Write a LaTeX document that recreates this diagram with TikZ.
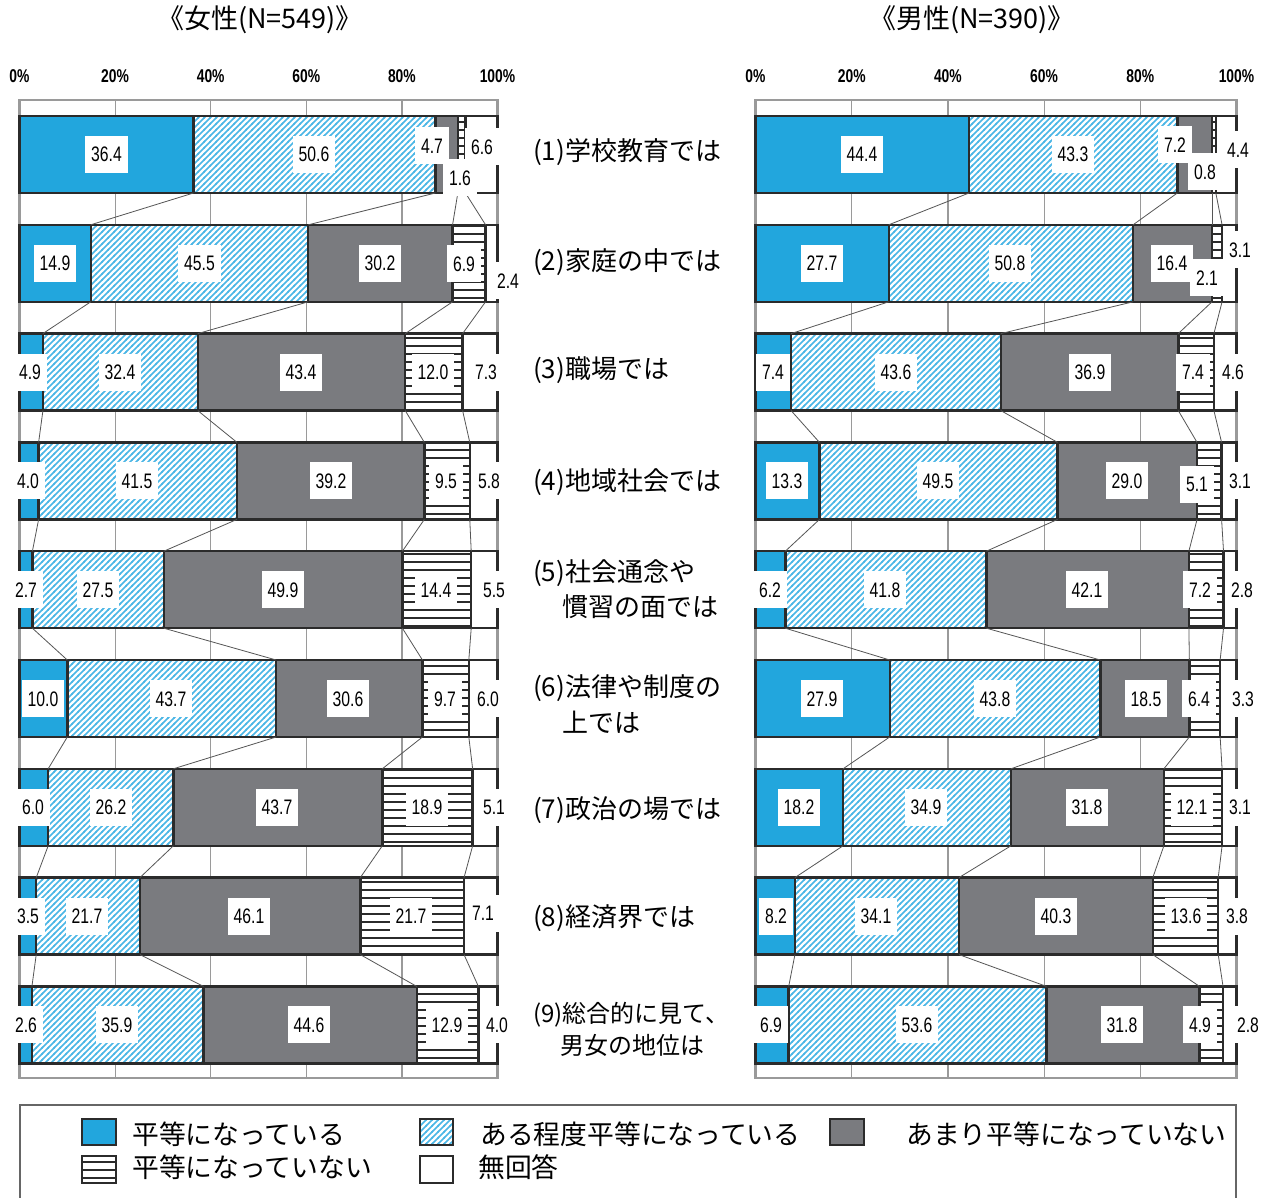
\documentclass[tikz,border=0pt]{standalone}
\usepackage{fontspec}
\usetikzlibrary{patterns}
\newfontfamily\jp{Noto Sans CJK JP}
\newfontfamily\numf[FakeStretch=0.75]{Liberation Sans}
\definecolor{cblue}{HTML}{22A6DD}
\definecolor{hblue}{HTML}{4AB6E6}
\definecolor{cgray}{HTML}{7A7B7F}
\definecolor{bline}{HTML}{2B2B2B}
\definecolor{gridc}{HTML}{9A9A9A}
\definecolor{connc}{HTML}{555555}
\definecolor{legc}{HTML}{666666}

\pgfdeclarepatternformonly{diaghatch}{\pgfqpoint{-1pt}{-1pt}}{\pgfqpoint{7pt}{7pt}}{\pgfqpoint{6pt}{6pt}}{%
 \pgfsetlinewidth{1.6pt}%
 \pgfpathmoveto{\pgfqpoint{-1pt}{-1pt}}\pgfpathlineto{\pgfqpoint{7pt}{7pt}}\pgfusepath{stroke}}
\pgfdeclarepatternformonly{hstripes}{\pgfqpoint{-1pt}{-1pt}}{\pgfqpoint{9pt}{9pt}}{\pgfqpoint{8pt}{8pt}}{%
 \pgfsetlinewidth{1.6pt}%
 \pgfpathmoveto{\pgfqpoint{-1pt}{4pt}}\pgfpathlineto{\pgfqpoint{9pt}{4pt}}\pgfusepath{stroke}}

% #1 name, #2 x0, #3 width, #4 ytop, #5..#8 values
\newcommand\mybar[8]{%
 \pgfmathsetmacro\xa{#2+#3/100*(#5)}%
 \pgfmathsetmacro\xb{#2+#3/100*(#5+#6)}%
 \pgfmathsetmacro\xc{#2+#3/100*(#5+#6+#7)}%
 \pgfmathsetmacro\xd{#2+#3/100*(#5+#6+#7+#8)}%
 \pgfmathsetmacro\xe{#2+#3}%
 \pgfmathsetmacro\yb{#4+77}%
 \fill[cblue] (#2,#4) rectangle (\xa,\yb);
 \fill[white] (\xa,#4) rectangle (\xb,\yb);
 \fill[pattern=diaghatch,pattern color=hblue] (\xa,#4) rectangle (\xb,\yb);
 \fill[cgray] (\xb,#4) rectangle (\xc,\yb);
 \fill[white] (\xc,#4) rectangle (\xd,\yb);
 \fill[pattern=hstripes,pattern color=bline] (\xc,#4) rectangle (\xd,\yb);
 \fill[white] (\xd,#4) rectangle (\xe,\yb);
 \draw[barline] (#2,#4) rectangle (\xe,\yb);
 \draw[barline] (\xa,#4) -- (\xa,\yb) (\xb,#4) -- (\xb,\yb) (\xc,#4) -- (\xc,\yb) (\xd,#4) -- (\xd,\yb);
 \coordinate (#1-t1) at (\xa,#4); \coordinate (#1-b1) at (\xa,\yb);
 \coordinate (#1-t2) at (\xb,#4); \coordinate (#1-b2) at (\xb,\yb);
 \coordinate (#1-t3) at (\xc,#4); \coordinate (#1-b3) at (\xc,\yb);
 \coordinate (#1-t4) at (\xd,#4); \coordinate (#1-b4) at (\xd,\yb);
}
\newcommand\vl[4]{\node[vlab] (#1) at (#2,#3) {#4};}

\begin{document}
\begin{tikzpicture}[x=1pt,y=-1pt,
  barline/.style={draw=bline,line width=2.4pt},
  conn/.style={draw=connc,line width=0.8pt},
  gridline/.style={draw=gridc,line width=1.2pt},
  frameline/.style={draw=gridc,line width=2.2pt},
  vlab/.style={fill=white,font=\numf\fontsize{21}{21}\selectfont,text height=15pt,text depth=0pt,inner xsep=6pt,inner ysep=11pt},
  axlab/.style={font=\numf\bfseries\fontsize{18.5}{18.5}\selectfont,inner sep=0pt},
  cat/.style={anchor=west,font=\jp\fontsize{26}{30}\selectfont,inner sep=0pt},
  cats/.style={anchor=west,font=\jp\fontsize{24}{28}\selectfont,inner sep=0pt},
  ttl/.style={font=\jp\fontsize{27}{27}\selectfont,inner sep=0pt},
  legbox/.style={draw=bline,line width=1.2pt},
  legtxt/.style={anchor=west,font=\jp\fontsize{26.8}{26.8}\selectfont,inner sep=0pt}]
\clip (0,0) rectangle (1269,1198);
\fill[white] (0,0) rectangle (1269,1198);

% titles
\node[ttl] (tF) at (260,20) {《女性(N=549)》};
\node[ttl] (tM) at (972,20) {《男性(N=390)》};

% frames, grid and axis labels
\foreach \xo/\w/\s in {19.5/478/L,755.5/481/R}{
  \foreach \p in {20,40,60,80}{
    \draw[gridline] ({\xo+\w/100*\p},100) -- ({\xo+\w/100*\p},1078);
  }
  \draw[frameline] (\xo,100) rectangle ({\xo+\w},1078);
  \foreach \p in {0,20,40,60,80,100}{
    \node[axlab] (ax\s\p) at ({\xo+\w/100*\p},76) {\p\%};
  }
}

% bars left (women)
\mybar{L1}{19.5}{478}{116}{36.4}{50.6}{4.7}{1.6}
\mybar{L2}{19.5}{478}{224.8}{14.9}{45.5}{30.2}{6.9}
\mybar{L3}{19.5}{478}{333.6}{4.9}{32.4}{43.4}{12.0}
\mybar{L4}{19.5}{478}{442.4}{4.0}{41.5}{39.2}{9.5}
\mybar{L5}{19.5}{478}{551.2}{2.7}{27.5}{49.9}{14.4}
\mybar{L6}{19.5}{478}{660}{10.0}{43.7}{30.6}{9.7}
\mybar{L7}{19.5}{478}{768.8}{6.0}{26.2}{43.7}{18.9}
\mybar{L8}{19.5}{478}{877.6}{3.5}{21.7}{46.1}{21.7}
\mybar{L9}{19.5}{478}{986.4}{2.6}{35.9}{44.6}{12.9}
% bars right (men)
\mybar{R1}{755.5}{481}{116}{44.4}{43.3}{7.2}{0.8}
\mybar{R2}{755.5}{481}{224.8}{27.7}{50.8}{16.4}{2.1}
\mybar{R3}{755.5}{481}{333.6}{7.4}{43.6}{36.9}{7.4}
\mybar{R4}{755.5}{481}{442.4}{13.3}{49.5}{29.0}{5.1}
\mybar{R5}{755.5}{481}{551.2}{6.2}{41.8}{42.1}{7.2}
\mybar{R6}{755.5}{481}{660}{27.9}{43.8}{18.5}{6.4}
\mybar{R7}{755.5}{481}{768.8}{18.2}{34.9}{31.8}{12.1}
\mybar{R8}{755.5}{481}{877.6}{8.2}{34.1}{40.3}{13.6}
\mybar{R9}{755.5}{481}{986.4}{6.9}{53.6}{31.8}{4.9}

% connectors
\foreach \s in {L,R}{
  \foreach \r [evaluate=\r as \n using int(\r+1)] in {1,...,8}{
    \foreach \k in {1,...,4}{
      \draw[conn] (\s\r-b\k) -- (\s\n-t\k);
    }
  }
}

% value labels, left
\vl{l11}{106.5}{154.5}{36.4}\vl{l12}{314}{154.5}{50.6}\vl{l13}{432}{146}{4.7}\vl{l14}{460}{178}{1.6}\vl{l15}{482}{147}{6.6}
\vl{l21}{55}{263.3}{14.9}\vl{l22}{199.5}{263.3}{45.5}\vl{l23}{380}{263.3}{30.2}\vl{l24}{464}{264}{6.9}\vl{l25}{508}{281}{2.4}
\vl{l31}{30}{372.1}{4.9}\vl{l32}{120}{372.1}{32.4}\vl{l33}{301}{372.1}{43.4}\vl{l34}{433}{372.1}{12.0}\vl{l35}{486}{372.1}{7.3}
\vl{l41}{28}{480.9}{4.0}\vl{l42}{137}{480.9}{41.5}\vl{l43}{331}{480.9}{39.2}\vl{l44}{446}{480.9}{9.5}\vl{l45}{489}{480.9}{5.8}
\vl{l51}{26}{589.7}{2.7}\vl{l52}{98}{589.7}{27.5}\vl{l53}{283}{589.7}{49.9}\vl{l54}{436}{589.7}{14.4}\vl{l55}{494}{589.7}{5.5}
\vl{l61}{43}{698.5}{10.0}\vl{l62}{171}{698.5}{43.7}\vl{l63}{348}{698.5}{30.6}\vl{l64}{445}{698.5}{9.7}\vl{l65}{488}{698.5}{6.0}
\vl{l71}{33}{807.3}{6.0}\vl{l72}{111}{807.3}{26.2}\vl{l73}{277}{807.3}{43.7}\vl{l74}{427}{807.3}{18.9}\vl{l75}{494}{807.3}{5.1}
\vl{l81}{28}{916.1}{3.5}\vl{l82}{87}{916.1}{21.7}\vl{l83}{249}{916.1}{46.1}\vl{l84}{411}{916.1}{21.7}\vl{l85}{483}{913}{7.1}
\vl{l91}{26}{1024.9}{2.6}\vl{l92}{117}{1024.9}{35.9}\vl{l93}{309}{1024.9}{44.6}\vl{l94}{447}{1024.9}{12.9}\vl{l95}{497}{1024.9}{4.0}
% value labels, right
\vl{r11}{862}{154.5}{44.4}\vl{r12}{1073}{154.5}{43.3}\vl{r13}{1175}{145}{7.2}\vl{r14}{1205}{172}{0.8}\vl{r15}{1238}{150}{4.4}
\vl{r21}{822}{263.3}{27.7}\vl{r22}{1010}{263.3}{50.8}\vl{r23}{1172}{263.3}{16.4}\vl{r24}{1207}{278}{2.1}\vl{r25}{1240}{250}{3.1}
\vl{r31}{773}{372.1}{7.4}\vl{r32}{896}{372.1}{43.6}\vl{r33}{1090}{372.1}{36.9}\vl{r34}{1193}{372.1}{7.4}\vl{r35}{1233}{372.1}{4.6}
\vl{r41}{787}{480.9}{13.3}\vl{r42}{938}{480.9}{49.5}\vl{r43}{1127}{480.9}{29.0}\vl{r44}{1197}{484}{5.1}\vl{r45}{1240}{480.9}{3.1}
\vl{r51}{770}{589.7}{6.2}\vl{r52}{885}{589.7}{41.8}\vl{r53}{1087}{589.7}{42.1}\vl{r54}{1200}{589.7}{7.2}\vl{r55}{1242}{589.7}{2.8}
\vl{r61}{822}{698.5}{27.9}\vl{r62}{995}{698.5}{43.8}\vl{r63}{1146}{698.5}{18.5}\vl{r64}{1199}{698.5}{6.4}\vl{r65}{1243}{698.5}{3.3}
\vl{r71}{799}{807.3}{18.2}\vl{r72}{926}{807.3}{34.9}\vl{r73}{1087}{807.3}{31.8}\vl{r74}{1192}{807.3}{12.1}\vl{r75}{1240}{807.3}{3.1}
\vl{r81}{776}{916.1}{8.2}\vl{r82}{876}{916.1}{34.1}\vl{r83}{1056}{916.1}{40.3}\vl{r84}{1186}{916.1}{13.6}\vl{r85}{1237}{916.1}{3.8}
\vl{r91}{771}{1024.9}{6.9}\vl{r92}{917}{1024.9}{53.6}\vl{r93}{1122}{1024.9}{31.8}\vl{r94}{1200}{1024.9}{4.9}\vl{r95}{1248}{1024.9}{2.8}

% category labels
\node[cat] (c1) at (533,152) {(1)学校教育では};
\node[cat] (c2) at (533,262) {(2)家庭の中では};
\node[cat] (c3) at (533,370) {(3)職場では};
\node[cat] (c4) at (533,482) {(4)地域社会では};
\node[cat] (c5a) at (533,573) {(5)社会通念や};
\node[cat] (c5b) at (562,607) {慣習の面では};
\node[cat] (c6a) at (533,688) {(6)法律や制度の};
\node[cat] (c6b) at (562,722) {上では};
\node[cat] (c7) at (533,810) {(7)政治の場では};
\node[cat] (c8) at (533,918) {(8)経済界では};
\node[cats] (c9a) at (533,1015) {(9)総合的に見て、};
\node[cats] (c9b) at (560,1045) {男女の地位は};

% legend
\draw[draw=legc,line width=2pt] (20,1105) rectangle (1236,1215);
\draw[legbox,fill=cblue] (82,1119) rectangle (116,1145);
\fill[white] (420,1119) rectangle (453,1145);
\fill[pattern=diaghatch,pattern color=hblue] (420,1119) rectangle (453,1145);
\draw[legbox] (420,1119) rectangle (453,1145);
\draw[legbox,fill=cgray] (830,1119) rectangle (864,1145);
\fill[white] (82,1156) rectangle (116,1183);
\fill[pattern=hstripes,pattern color=bline] (82,1156) rectangle (116,1183);
\draw[legbox] (82,1156) rectangle (116,1183);
\draw[legbox,fill=white] (420,1156) rectangle (453,1183);
\node[legtxt] (g1) at (132,1134) {平等になっている};
\node[legtxt] (g2) at (480,1134) {ある程度平等になっている};
\node[legtxt] (g3) at (906,1134) {あまり平等になっていない};
\node[legtxt] (g4) at (132,1167) {平等になっていない};
\node[legtxt] (g5) at (478,1167) {無回答};
\end{tikzpicture}
\end{document}
